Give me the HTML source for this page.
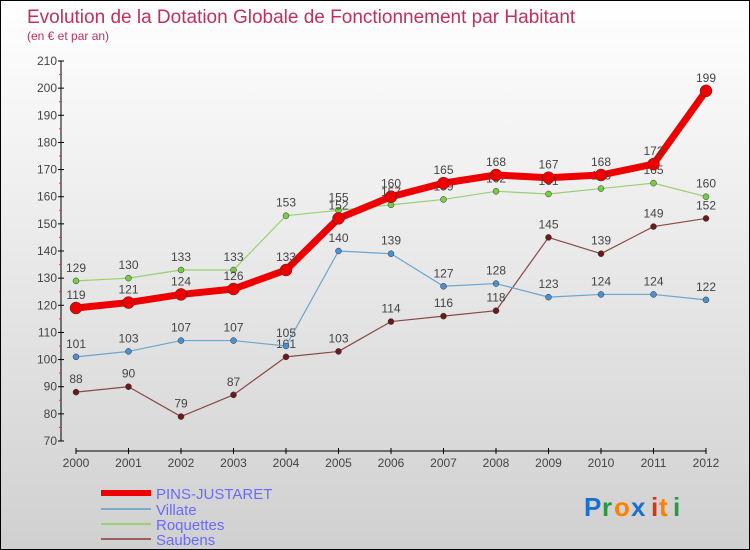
<!DOCTYPE html>
<html><head><meta charset="utf-8"><style>
body{margin:0}
#c{width:748px;height:548px;border:1px solid #000;background:linear-gradient(#ffffff,#d0d0d0);position:relative;font-family:"Liberation Sans",sans-serif}
</style></head><body>
<div id="c">
<svg id="s" width="748" height="548" style="position:absolute;left:0;top:0">
<text x="26" y="22" font-size="19" fill="#c0305a">Evolution de la Dotation Globale de Fonctionnement par Habitant</text>
<text x="26" y="39" font-size="12" fill="#c0305a">(en € et par an)</text>
<g id="axes"></g><g id="series"></g>
<g>
<line x1="100" y1="492" x2="150" y2="492" stroke="#e00" stroke-width="6"/>
<text x="155" y="498" font-size="15" fill="#6a6aff">PINS-JUSTARET</text>
<line x1="100" y1="508" x2="150" y2="508" stroke="#7aaed0" stroke-width="2"/>
<text x="155" y="514" font-size="15" fill="#6a6aff">Villate</text>
<line x1="100" y1="523" x2="150" y2="523" stroke="#99d070" stroke-width="2"/>
<text x="155" y="529" font-size="15" fill="#6a6aff">Roquettes</text>
<line x1="100" y1="538" x2="150" y2="538" stroke="#986060" stroke-width="2"/>
<text x="155" y="544" font-size="15" fill="#6a6aff">Saubens</text>
</g>
<g font-size="26" font-weight="bold">
<text x="583" y="515" fill="#1a70d0">P</text><text x="601" y="515" fill="#2a9a40">r</text><text x="613" y="515" fill="#ff8000">o</text><text x="630" y="515" fill="#1a70d0">x</text><text x="650" y="515" fill="#e03010">i</text><text x="658" y="515" fill="#ff8000">t</text><text x="672" y="515" fill="#2a9a40">i</text>
</g>
</svg>
</div>
<script>
const years=[2000,2001,2002,2003,2004,2005,2006,2007,2008,2009,2010,2011,2012];
const pins=[119,121,124,126,133,152,160,165,168,167,168,172,199];
const villate=[101,103,107,107,105,140,139,127,128,123,124,124,122];
const roquettes=[129,130,133,133,153,155,157,159,162,161,163,165,160];
const saubens=[88,90,79,87,101,103,114,116,118,145,139,149,152];
const yTicks=[70,80,90,100,110,120,130,140,150,160,170,180,190,200,210];
const NS="http://www.w3.org/2000/svg";
const X=i=>75+i*52.5, Y=v=>440-(v-70)*380/140;
function mk(t,a,p){const e=document.createElementNS(NS,t);for(const k in a)e.setAttribute(k,a[k]);p.appendChild(e);return e;}
const ax=document.getElementById('axes'), sg=document.getElementById('series');
mk('line',{x1:60,y1:60,x2:60,y2:440,stroke:'#000'},ax);
mk('line',{x1:75,y1:450,x2:705,y2:450,stroke:'#000'},ax);
yTicks.forEach(v=>{
 mk('line',{x1:57,y1:Y(v),x2:63,y2:Y(v),stroke:'#000'},ax);
 if(v<210) mk('line',{x1:58,y1:Y(v+5),x2:61,y2:Y(v+5),stroke:'#e33'},ax);
 const t=mk('text',{x:56,y:Y(v)+4,'font-size':12,fill:'#444','text-anchor':'end'},ax);
 
 
 t.textContent=v;
});
years.forEach((y,i)=>{
 mk('line',{x1:X(i),y1:447,x2:X(i),y2:453,stroke:'#000'},ax);
 const t=mk('text',{x:X(i),y:466,'font-size':12,fill:'#444','text-anchor':'middle'},ax);
 
 
 t.textContent=y;
});
function series(data,name,color,dot,w,r){
 const g=mk('g',{},sg);
 
 
 mk('polyline',{points:data.map((v,i)=>X(i)+','+Y(v)).join(' '),fill:'none',stroke:color,'stroke-width':w,'stroke-linejoin':'round'},g);
 data.forEach((v,i)=>{
  const c=mk('circle',{cx:X(i),cy:Y(v),r:r,fill:dot,stroke:'#333','stroke-width':0.5},g);
  
  
  const t=mk('text',{x:X(i),y:Y(v)-9,'font-size':12,fill:'#444','text-anchor':'middle'},g);
  
  
  t.textContent=v;
 });
}
series(saubens,'saubens','#8a4848','#6a1a1a',1.2,3);
series(roquettes,'roquettes','#99d070','#77cc44',1.2,3);
series(villate,'villate','#6aa6d0','#4a90d0',1.2,3);
series(pins,'pins-justaret','#ee0000','#ee0000',7,6);
</script>
</body></html>
